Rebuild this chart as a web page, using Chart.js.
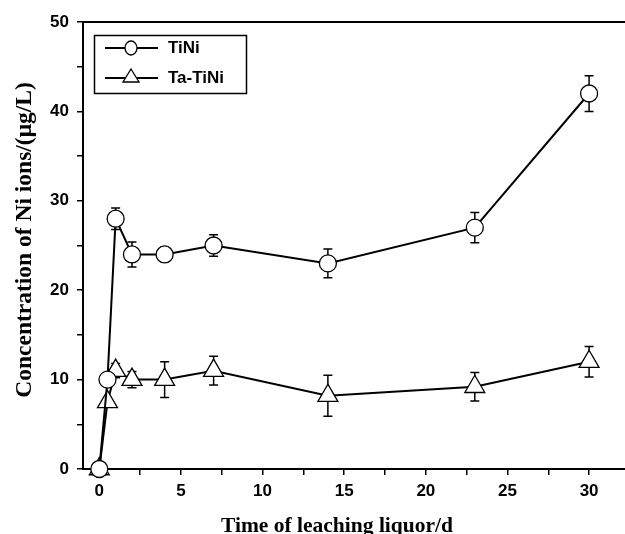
<!DOCTYPE html>
<html lang="en">
<head>
    <meta charset="UTF-8">
    <title>Ni ion leaching</title>
    <script src="https://cdn.jsdelivr.net/npm/chart.js"></script>
    <style>
        html, body {
            margin: 0;
            overflow: hidden;
            background-color: #fff;
        }
    </style>
</head>
<body>
    <canvas id="leach-chart" width="625" height="534"></canvas>

    <script>
        // leaching time in days
        const days = [0, 0.5, 1, 2, 4, 7, 14, 23, 30];
        const tiniValues = [0, 10, 28, 24, 24, 25, 23, 27, 42];
        const tiniErrors = [0, 0, 1.2, 1.4, 0.8, 1.2, 1.6, 1.7, 2];
        const taTiniValues = [0, 7.5, 11, 10, 10, 11, 8.2, 9.2, 12];
        const taTiniErrors = [0, 0, 0.8, 0.9, 2, 1.6, 2.3, 1.6, 1.7];
        const xTicks = [0, 2.5, 5, 7.5, 10, 12.5, 15, 17.5, 20, 22.5, 25, 27.5, 30];
        const yTicks = [0, 5, 10, 15, 20, 25, 30, 35, 40, 45, 50];
        const seriesNames = ['TiNi', 'Ta-TiNi'];

        const tickFont = { family: 'Liberation Sans, Arial, sans-serif', size: 17, weight: 'bold' };

        function toPoints(values) {
            return days.map((d, i) => ({ x: d, y: values[i] }));
        }

        const errorBars = {
            id: 'errorBars',
            beforeDatasetsDraw(chart) {
                const ctx = chart.ctx;
                const xs = chart.scales.x;
                const ys = chart.scales.y;
                const errs = [tiniErrors, taTiniErrors];
                ctx.save();
                ctx.strokeStyle = '#000';
                ctx.lineWidth = 1.5;
                chart.data.datasets.forEach((ds, k) => {
                    ds.data.forEach((p, i) => {
                        const e = errs[k][i];
                        if (!e) return;
                        const px = xs.getPixelForValue(p.x);
                        const top = ys.getPixelForValue(p.y + e);
                        const bot = ys.getPixelForValue(p.y - e);
                        ctx.beginPath();
                        ctx.moveTo(px, top);
                        ctx.lineTo(px, bot);
                        ctx.moveTo(px - 4.5, top);
                        ctx.lineTo(px + 4.5, top);
                        ctx.moveTo(px - 4.5, bot);
                        ctx.lineTo(px + 4.5, bot);
                        ctx.stroke();
                    });
                });
                ctx.restore();
            }
        };

        const frameAndText = {
            id: 'frameAndText',
            afterDraw(chart) {
                const ctx = chart.ctx;
                const area = chart.chartArea;
                ctx.save();
                // top frame line
                ctx.strokeStyle = '#000';
                ctx.lineWidth = 2;
                ctx.beginPath();
                ctx.moveTo(area.left, area.top);
                ctx.lineTo(area.right, area.top);
                ctx.stroke();

                // legend box
                ctx.lineWidth = 1.5;
                ctx.strokeRect(94.5, 35.5, 152, 58);
                chart.data.datasets.forEach((ds, k) => {
                    const y = 48 + k * 30;
                    ctx.lineWidth = 2;
                    ctx.beginPath();
                    ctx.moveTo(105, y);
                    ctx.lineTo(158, y);
                    ctx.stroke();
                    ctx.lineWidth = 1.3;
                    ctx.fillStyle = '#fff';
                    ctx.beginPath();
                    if (k === 0) {
                        ctx.ellipse(131, y, 6, 7, 0, 0, Math.PI * 2);
                    } else {
                        ctx.moveTo(131, y - 9);
                        ctx.lineTo(139, y + 4);
                        ctx.lineTo(123, y + 4);
                        ctx.closePath();
                    }
                    ctx.fill();
                    ctx.stroke();
                    ctx.fillStyle = '#000';
                    ctx.font = 'bold 17px "Liberation Sans", Arial, sans-serif';
                    ctx.textAlign = 'left';
                    ctx.textBaseline = 'middle';
                    ctx.fillText(seriesNames[k], 168, y);
                });

                // axis titles
                ctx.fillStyle = '#000';
                ctx.font = 'bold 21.5px "Liberation Serif", "Times New Roman", serif';
                ctx.textAlign = 'center';
                ctx.textBaseline = 'alphabetic';
                ctx.fillText('Time of leaching liquor/d', 337, 532);
                ctx.font = 'bold 23.5px "Liberation Serif", "Times New Roman", serif';
                ctx.translate(31, 240);
                ctx.rotate(-Math.PI / 2);
                ctx.fillText('Concentration of Ni ions/(\u03bcg/L)', 0, 0);
                ctx.restore();
            }
        };

        const markerStyle = {
            showLine: true,
            borderColor: '#000',
            borderWidth: 2,
            pointBackgroundColor: '#fff',
            pointBorderColor: '#000',
            pointBorderWidth: 1.3,
            clip: false
        };

        new Chart(document.getElementById('leach-chart'), {
            type: 'scatter',
            data: {
                datasets: [
                    Object.assign({
                        label: seriesNames[0],
                        data: toPoints(tiniValues),
                        pointStyle: 'circle',
                        pointRadius: 8.5
                    }, markerStyle),
                    Object.assign({
                        label: seriesNames[1],
                        data: toPoints(taTiniValues),
                        pointStyle: 'triangle',
                        pointRadius: 11.5
                    }, markerStyle)
                ]
            },
            options: {
                responsive: false,
                animation: false,
                layout: {
                    autoPadding: false,
                    padding: { top: 22, right: 0, left: 0, bottom: 0 }
                },
                plugins: {
                    legend: { display: false },
                    tooltip: { enabled: false }
                },
                scales: {
                    x: {
                        type: 'linear',
                        min: -1,
                        max: 32.2,
                        afterBuildTicks: s => { s.ticks = xTicks.map(v => ({ value: v })); },
                        afterFit: s => {
                            s.height = 65;
                            s.paddingLeft = 0;
                            s.paddingRight = 0;
                        },
                        border: { color: '#000', width: 2 },
                        grid: { drawOnChartArea: false, color: '#000', lineWidth: 1.5, tickLength: 6 },
                        ticks: {
                            color: '#000',
                            font: tickFont,
                            padding: 6,
                            maxRotation: 0,
                            autoSkip: false,
                            callback: v => (v % 5 === 0 ? v : '')
                        }
                    },
                    y: {
                        min: 0,
                        max: 50,
                        afterBuildTicks: s => { s.ticks = yTicks.map(v => ({ value: v })); },
                        afterFit: s => {
                            s.width = 83;
                            s.paddingTop = 0;
                            s.paddingBottom = 0;
                        },
                        border: { color: '#000', width: 2 },
                        grid: { drawOnChartArea: false, color: '#000', lineWidth: 1.5, tickLength: 6 },
                        ticks: {
                            color: '#000',
                            font: tickFont,
                            padding: 8,
                            autoSkip: false,
                            callback: v => (v % 10 === 0 ? v : '')
                        }
                    }
                }
            },
            plugins: [errorBars, frameAndText]
        });
    </script>
</body>
</html>
